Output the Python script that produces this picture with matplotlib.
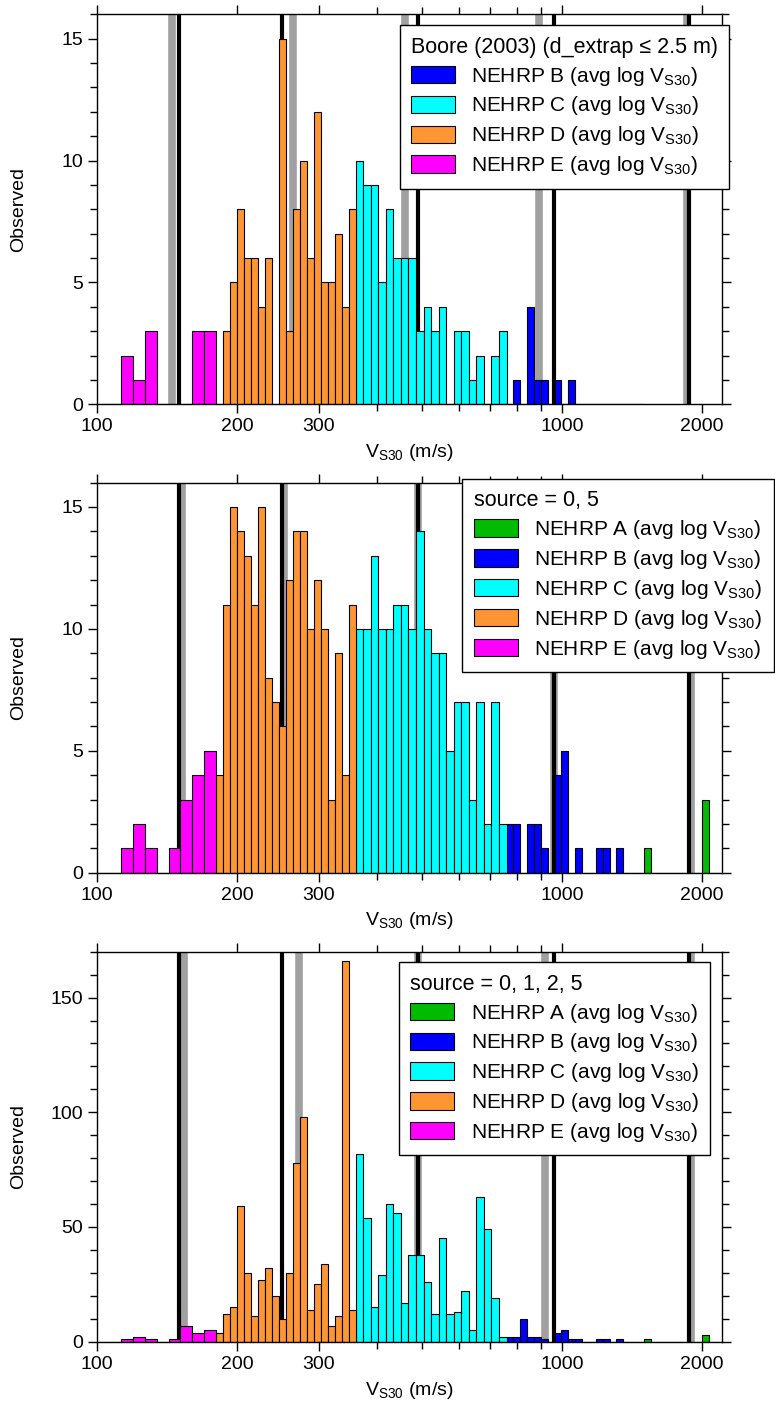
import numpy as np
import matplotlib
matplotlib.use('Agg')
import matplotlib.pyplot as plt
from matplotlib.ticker import FixedLocator, FixedFormatter, NullFormatter, MultipleLocator

plt.rcParams['font.family'] = ['Liberation Sans', 'DejaVu Sans']
plt.rcParams['mathtext.fontset'] = 'custom'
plt.rcParams['mathtext.rm'] = 'Liberation Sans'
plt.rcParams['mathtext.default'] = 'regular'

# NEHRP classes: name, lower / upper Vs30 bound, colour
klasser = ['A', 'B', 'C', 'D', 'E']
grenser = {'A': (1500, 3080), 'B': (760, 1500), 'C': (360, 760), 'D': (180, 360), 'E': (56, 180)}
farger = {'A': '#00bb00', 'B': '#0000ff', 'C': '#00ffff', 'D': '#ff9533', 'E': '#ff00ff'}
antall_bins = 20

# counts per class, 20 log-spaced bins inside each class
topp = {
    'B': [0, 1, 0, 4, 1, 1, 0, 1, 0, 1, 0, 0, 0, 0, 0, 0, 0, 0, 0, 0],
    'C': [10, 9, 9, 5, 8, 6, 6, 6, 3, 4, 3, 4, 0, 3, 3, 1, 2, 0, 2, 3],
    'D': [0, 3, 5, 8, 6, 6, 4, 6, 0, 15, 3, 8, 10, 6, 12, 5, 5, 7, 4, 8],
    'E': [0, 0, 0, 0, 0, 0, 0, 0, 0, 0, 0, 0, 2, 1, 3, 0, 0, 0, 3, 3],
}
midt = {
    'A': [1, 0, 0, 0, 0, 0, 0, 0, 3, 0, 0, 0, 0, 0, 0, 0, 0, 0, 0, 0],
    'B': [2, 2, 0, 2, 2, 1, 0, 4, 5, 0, 1, 0, 0, 1, 1, 0, 1, 0, 0, 0],
    'C': [10, 10, 13, 10, 10, 11, 11, 10, 14, 10, 9, 9, 5, 7, 7, 3, 7, 2, 7, 2],
    'D': [4, 11, 15, 14, 13, 11, 15, 8, 7, 6, 12, 14, 14, 10, 12, 10, 3, 9, 4, 11],
    'E': [0, 0, 0, 0, 0, 0, 0, 0, 0, 0, 0, 0, 1, 2, 1, 0, 1, 3, 4, 5],
}
bunn = {
    'A': [1, 0, 0, 0, 0, 0, 0, 0, 3, 0, 0, 0, 0, 0, 0, 0, 0, 0, 0, 0],
    'B': [2, 2, 10, 2, 2, 1, 0, 4, 5, 1, 1, 0, 0, 1, 1, 0, 1, 0, 0, 0],
    'C': [82, 54, 15, 29, 60, 56, 17, 38, 38, 26, 12, 45, 12, 13, 22, 5, 63, 49, 19, 2],
    'D': [4, 12, 15, 59, 30, 11, 27, 32, 20, 10, 30, 78, 98, 14, 25, 34, 7, 11, 166, 14],
    'E': [0, 0, 0, 0, 0, 0, 0, 0, 0, 0, 0, 0, 1, 2, 1, 0, 1, 7, 4, 5],
}

# class mean lines (black) and subset mean lines (gray)
svarte_linjer = [150, 250, 490, 960, 1880]
graa_topp = [145, 264, 459, 891, 1862]
graa_midt = [152, 252, 490, 960, 1893]
graa_bunn = [154, 272, 490, 920, 1893]

titler = ['Boore (2003) (d_extrap \u2264 2.5 m)', 'source = 0, 5', 'source = 0, 1, 2, 5']
y_maks = [16, 16, 170]
y_steg = [(5, 1), (5, 1), (50, 10)]
legend_pos = [(0.484, 0.972), (0.5845, 1.0095), (0.483, 0.973)]

fig = plt.figure(figsize=(7.75, 14.05), dpi=100)
bunner = [0.7122, 0.3789, 0.04505]

paneler = [(topp, graa_topp), (midt, graa_midt), (bunn, graa_bunn)]
for i, (data, graa) in enumerate(paneler):
    ax = fig.add_axes([0.1252, bunner[i], 0.8065, 0.2776])

    for v in graa:
        ax.axvline(v, color='#a0a0a0', lw=5.5, zorder=1)
    for v in svarte_linjer:
        ax.axvline(v, color='black', lw=3, zorder=1.1)

    for k in klasser:
        if k not in data:
            continue
        lo, hi = grenser[k]
        kanter = np.geomspace(lo, hi, antall_bins + 1)
        ax.bar(kanter[:-1], data[k], width=np.diff(kanter), align='edge',
               color=farger[k], edgecolor='black', linewidth=0.8, zorder=2,
               label=f'NEHRP {k} (avg log V$_{{S30}}$)')

    ax.set_xscale('log')
    ax.set_xlim(100, 2210)
    ax.set_ylim(0, y_maks[i])
    ax.xaxis.set_major_locator(FixedLocator([100, 200, 300, 1000, 2000]))
    ax.xaxis.set_major_formatter(FixedFormatter(['100', '200', '300', '1000', '2000']))
    ax.xaxis.set_minor_locator(FixedLocator([400, 500, 600, 700, 800, 900]))
    ax.xaxis.set_minor_formatter(NullFormatter())
    ax.yaxis.set_major_locator(MultipleLocator(y_steg[i][0]))
    ax.yaxis.set_minor_locator(MultipleLocator(y_steg[i][1]))

    ax.tick_params(which='both', direction='out', top=True, right=True,
                   labelsize=14, width=1.0)
    ax.tick_params(which='major', length=6.5)
    ax.tick_params(which='minor', length=5)
    for s in ax.spines.values():
        s.set_linewidth(1.0)

    ax.set_xlabel('V$_{S30}$ (m/s)', fontsize=14, labelpad=5)
    ax.set_ylabel('Observed', fontsize=14)
    ax.yaxis.set_label_coords(-0.112, 0.5)

    leg = ax.legend(title=titler[i], loc='upper left', bbox_to_anchor=legend_pos[i],
                    borderaxespad=0, fontsize=15, title_fontsize=15.5, fancybox=False,
                    edgecolor='black', framealpha=1, handlelength=2.1, handleheight=0.9,
                    handletextpad=0.8, labelspacing=0.33, borderpad=0.55, alignment='left')
    leg.get_frame().set_linewidth(1.0)
    leg.set_zorder(5)

fig.savefig('out.png', dpi=100)
